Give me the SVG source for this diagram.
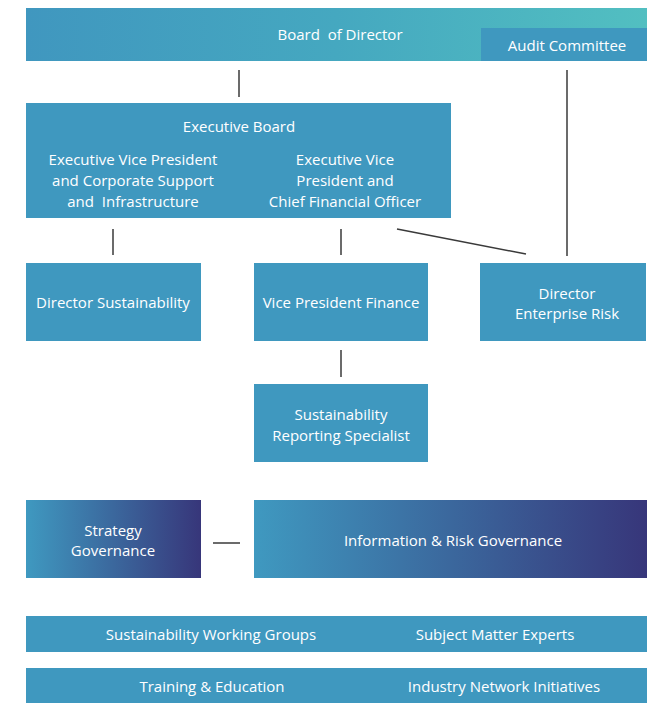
<svg xmlns="http://www.w3.org/2000/svg" width="653" height="703" viewBox="0 0 653 703">
<defs>
<linearGradient id="gBoard" x1="0" y1="0" x2="1" y2="0">
<stop offset="0" stop-color="#4097bf"/>
<stop offset="0.5" stop-color="#45a8c0"/>
<stop offset="1" stop-color="#52bfc1"/>
</linearGradient>
<linearGradient id="gGov" x1="0" y1="0" x2="1" y2="0">
<stop offset="0" stop-color="#3f99c0"/>
<stop offset="1" stop-color="#37367a"/>
</linearGradient>
<style>
.b{fill:#3f98bf}
.t{font-family:"Open Sans","Noto Sans","Liberation Sans",sans-serif;font-size:15px;fill:#ffffff;text-anchor:middle;white-space:pre}
.c line{stroke:#3a3a3a;stroke-width:1.5}
</style>
</defs>
<rect width="653" height="703" fill="#ffffff"/>
<g id="board">
<rect x="26" y="8" width="621" height="53" fill="url(#gBoard)"/>
<text class="t" x="340" y="40" xml:space="preserve">Board  of Director</text>
</g>
<g id="audit">
<rect class="b" x="481" y="28" width="166" height="33"/>
<text class="t" x="567" y="51">Audit Committee</text>
</g>
<g id="executive-board">
<rect class="b" x="26" y="103" width="425" height="115"/>
<text class="t" x="239" y="132">Executive Board</text>
<text class="t" x="133" y="165">Executive Vice President</text>
<text class="t" x="133" y="186">and Corporate Support</text>
<text class="t" x="133" y="207" xml:space="preserve">and  Infrastructure</text>
<text class="t" x="345" y="165">Executive Vice</text>
<text class="t" x="345" y="186">President and</text>
<text class="t" x="345" y="207">Chief Financial Officer</text>
</g>
<g id="director-sustainability">
<rect class="b" x="26" y="263" width="175" height="78"/>
<text class="t" x="113" y="308">Director Sustainability</text>
</g>
<g id="vp-finance">
<rect class="b" x="254" y="263" width="174" height="78"/>
<text class="t" x="341" y="308">Vice President Finance</text>
</g>
<g id="director-enterprise-risk">
<rect class="b" x="480" y="263" width="166" height="78"/>
<text class="t" x="567" y="299">Director</text>
<text class="t" x="567" y="319">Enterprise Risk</text>
</g>
<g id="reporting-specialist">
<rect class="b" x="254" y="384" width="174" height="78"/>
<text class="t" x="341" y="420">Sustainability</text>
<text class="t" x="341" y="441">Reporting Specialist</text>
</g>
<g id="strategy-governance">
<rect x="26" y="500" width="175" height="78" fill="url(#gGov)"/>
<text class="t" x="113" y="536">Strategy</text>
<text class="t" x="113" y="556">Governance</text>
</g>
<g id="info-risk-governance">
<rect x="254" y="500" width="393" height="78" fill="url(#gGov)"/>
<text class="t" x="453" y="546">Information &amp; Risk Governance</text>
</g>
<g id="working-groups-bar">
<rect class="b" x="26" y="616" width="621" height="36"/>
<text class="t" x="211" y="640">Sustainability Working Groups</text>
<text class="t" x="495" y="640">Subject Matter Experts</text>
</g>
<g id="training-bar">
<rect class="b" x="26" y="668" width="621" height="35"/>
<text class="t" x="212" y="692">Training &amp; Education</text>
<text class="t" x="504" y="692">Industry Network Initiatives</text>
</g>
<g id="connectors" class="c">
<line x1="239" y1="70" x2="239" y2="97"/>
<line x1="567" y1="70" x2="567" y2="256"/>
<line x1="113" y1="229" x2="113" y2="255"/>
<line x1="341" y1="229" x2="341" y2="255"/>
<line x1="397" y1="229" x2="526" y2="254"/>
<line x1="341" y1="350" x2="341" y2="377"/>
<line x1="213" y1="543" x2="240" y2="543"/>
</g>
</svg>
